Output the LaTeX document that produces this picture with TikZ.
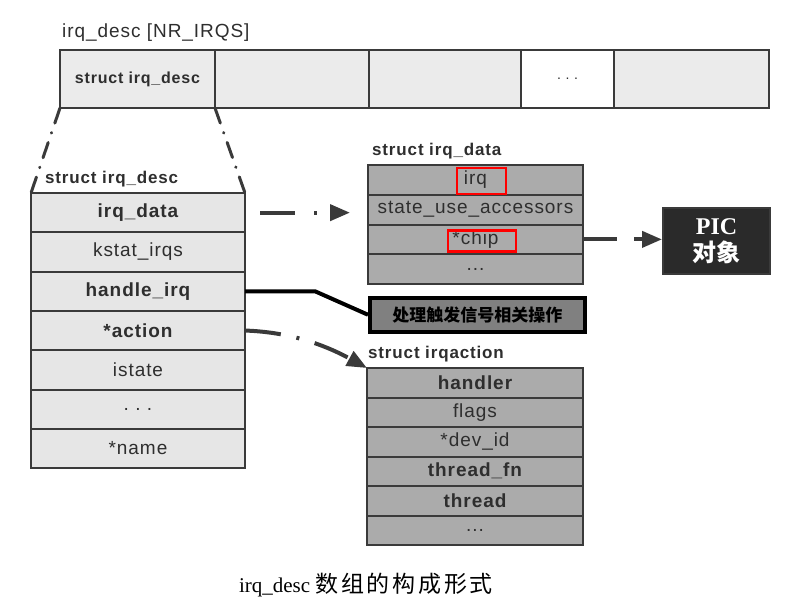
\documentclass[tikz,border=0pt]{standalone}
\usepackage{fontspec}
\setmainfont{Liberation Sans}[LetterSpace=5]
\newfontfamily\cjk{Noto Sans CJK SC}
\newfontfamily\cjkwide{Noto Sans CJK SC}[LetterSpace=12]
\newfontfamily\serifcap{Liberation Serif}
\usetikzlibrary{arrows.meta,positioning}

\definecolor{lineclr}{HTML}{3A3A3A}
\definecolor{txtclr}{HTML}{2E2E2E}
\definecolor{cellclr}{HTML}{EBEBEB}
\definecolor{descclr}{HTML}{E6E6E6}
\definecolor{fieldclr}{HTML}{ABABAB}
\definecolor{noteclr}{HTML}{808080}
\definecolor{picclr}{HTML}{2A2A2A}

\begin{document}
\begin{tikzpicture}[x=1pt, y=-1pt,
    cell/.style={rectangle, draw=lineclr, line width=2.5pt, fill=cellclr, minimum height=58pt, inner sep=0pt, outer sep=0pt, text=txtclr},
    descrow/.style={rectangle, draw=lineclr, line width=2pt, fill=descclr, minimum width=214pt, minimum height=39.3pt, inner sep=0pt, outer sep=0pt, text=txtclr, font=\fontsize{19}{21}\selectfont},
    datarow/.style={descrow, fill=fieldclr, minimum width=215pt, minimum height=29.75pt},
    actrow/.style={datarow, minimum width=216pt, minimum height=29.5pt},
    title/.style={inner sep=0pt, text=txtclr, font=\bfseries\fontsize{17}{19}\selectfont},
    hl/.style={draw=red, line width=2.5pt, inner sep=0pt, outer sep=0pt},
    funnel/.style={draw=lineclr, line width=3pt, line cap=round, dash pattern=on 16pt off 10pt on 0.5pt off 10pt},
    link/.style={draw=lineclr, line width=4pt, -{Triangle[length=20pt,width=16pt]}},
    node distance=0pt
]
\useasboundingbox (0,0) rectangle (796,614);

% the irq_desc array on top
\node[cell, anchor=north west, minimum width=155pt, font=\bfseries\fontsize{16}{18}\selectfont] (cell1) at (60,50) {struct irq\_desc};
\node[cell, right=of cell1, minimum width=154pt] (cell2) {};
\node[cell, right=of cell2, minimum width=152pt] (cell3) {};
\node[cell, right=of cell3, minimum width=93pt, fill=white, font=\fontsize{14}{16}\selectfont] (cell4) {.\,\,.\,\,.};
\node[cell, right=of cell4, minimum width=155pt] (cell5) {};
\node[inner sep=0pt, text=txtclr, font=\fontsize{19}{21}\selectfont, above right=8pt and 2pt of cell1.north west] (arrTitle) {irq\_desc [NR\_IRQS]};

% one struct irq_desc
\node[descrow, anchor=north west, font=\bfseries\fontsize{19}{21}\selectfont] (dData) at (31,193) {irq\_data};
\node[descrow, below=of dData] (dKstat) {kstat\_irqs};
\node[descrow, below=of dKstat, font=\bfseries\fontsize{19}{21}\selectfont] (dHandle) {handle\_irq};
\node[descrow, below=of dHandle, font=\bfseries\fontsize{19}{21}\selectfont] (dAction) {*action};
\node[descrow, below=of dAction] (dIstate) {istate};
\node[descrow, below=of dIstate] (dDots) {.\,\,.\,\,.};
\node[descrow, below=of dDots] (dName) {*name};
\node[title, above right=6pt and 14pt of dData.north west] (descTitle) {struct irq\_desc};

\draw[funnel] (cell1.south west) -- (dData.north west);
\draw[funnel] (cell1.south east) -- (dData.north east);

% struct irq_data
\node[datarow, anchor=north west] (dataIrq) at (368,165) {irq};
\node[datarow, below=of dataIrq] (dataState) {state\_use\_accessors};
\node[datarow, below=of dataState] (dataChip) {*chip};
\node[datarow, below=of dataChip] (dataDots) {...};
\node[title, above right=6pt and 4pt of dataIrq.north west] (dataTitle) {struct irq\_data};
\node[hl, minimum width=49pt, minimum height=26pt] (irqMark) at (481.5,181) {};
\node[hl, minimum width=68pt, minimum height=21pt] (chipMark) at (482,241) {};

% PIC object and the note
\node[rectangle, draw=lineclr, line width=2pt, fill=picclr, text=white, anchor=north west, minimum width=107pt, minimum height=66pt, align=center, font=\serifcap\bfseries\fontsize{24}{27}\selectfont] (pic) at (662,207) {PIC\\{\cjk 对象}};
\node[rectangle, draw=black, line width=3.5pt, fill=noteclr, anchor=north west, minimum width=215pt, minimum height=34pt, inner sep=0pt, font=\cjk\bfseries\fontsize{17}{19}\selectfont] (note) at (368,296) {处理触发信号相关操作};

% struct irqaction
\node[actrow, anchor=north west, font=\bfseries\fontsize{19}{21}\selectfont] (actHandler) at (367,368) {handler};
\node[actrow, below=of actHandler] (actFlags) {flags};
\node[actrow, below=of actFlags] (actDev) {*dev\_id};
\node[actrow, below=of actDev, font=\bfseries\fontsize{19}{21}\selectfont] (actThreadFn) {thread\_fn};
\node[actrow, below=of actThreadFn, font=\bfseries\fontsize{19}{21}\selectfont] (actThread) {thread};
\node[actrow, below=of actThread] (actDots) {...};
\node[title, above right=6pt and 1pt of actHandler.north west] (actTitle) {struct irqaction};

% connectors
\draw[link, dash pattern=on 35pt off 19pt on 3pt off 17pt, shorten <=15pt, shorten >=18pt] (dData.east) -- (dData.east -| dataState.west);
\draw[link, dash pattern=on 34pt off 17pt on 40pt off 0pt] (dataChip.east) -- (pic.west |- dataChip.east);
\draw[line width=4pt] (dHandle.east) -- ++(70,0) -- (note.west);
\draw[link, dash pattern=on 36pt off 16pt on 3pt off 16pt] (dAction.east) .. controls (290,332) and (325,345) .. (actHandler.north west);

\node[font=\serifcap\fontsize{21}{24}\selectfont] (caption) at (366,585) {irq\_desc {\cjkwide\fontsize{23}{25}\selectfont 数组的构成形式}};
\end{tikzpicture}
\end{document}
